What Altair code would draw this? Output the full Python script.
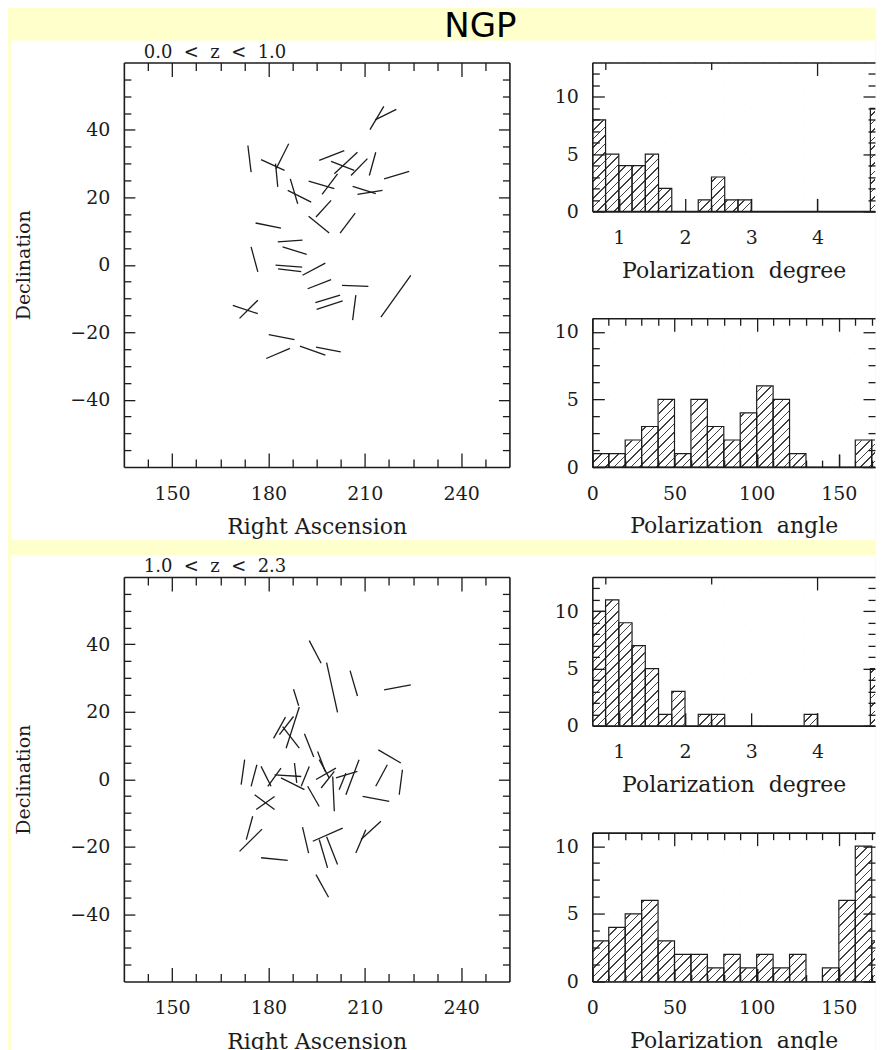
import altair as alt
import numpy as np
import pandas as pd

BG = "#FFFFCC"
INK = "#1c1c1c"
SERIF = "DejaVu Serif"
NB = "\u00a0"

# ---------------- Row 1 : 0.0 < z < 1.0  (polarization vectors, end points in RA / Dec)
r1_ra1 = [211.6, 213.2, 173.6, 177.7, 186.3, 182.2, 195.8, 199.5, 200.5, 205.7,
          211.4, 216.0, 192.5, 196.7, 186.8, 186.0, 206.2, 207.7, 194.8, 192.5,
          202.3, 176.0, 182.9, 184.4, 174.6, 182.2, 183.0, 190.6, 192.2, 202.9,
          194.6, 195.0, 206.2, 215.0, 168.9, 171.0, 180.1, 179.3, 189.8, 194.8]
r1_dec1 = [40.1, 43.0, 35.4, 31.2, 35.9, 30.0, 31.0, 30.7, 27.0, 26.5,
           26.5, 25.5, 24.8, 20.9, 25.5, 22.1, 23.3, 20.9, 14.2, 14.4,
           9.4, 12.4, 6.8, 5.3, 5.3, -0.1, -1.2, -3.1, -7.1, -6.1,
           -11.2, -13.2, -16.4, -15.5, -12.0, -15.9, -20.7, -27.8, -24.1, -24.4]
r1_ra2 = [215.9, 219.8, 174.6, 185.0, 182.4, 182.9, 203.6, 206.7, 207.7, 210.8,
          213.4, 223.8, 200.5, 201.5, 189.1, 193.3, 213.4, 215.5, 199.5, 198.9,
          207.0, 183.9, 190.6, 191.9, 176.7, 190.5, 190.2, 197.7, 199.5, 211.1,
          202.3, 203.1, 207.2, 224.3, 176.7, 176.7, 188.1, 186.7, 197.7, 202.5]
r1_dec2 = [47.0, 46.1, 27.5, 28.0, 28.5, 23.1, 33.9, 28.0, 33.4, 31.5,
           33.4, 27.7, 22.6, 27.0, 18.1, 18.6, 21.1, 22.1, 19.1, 9.4,
           15.3, 10.9, 7.3, 3.1, -2.1, -0.7, -2.0, 0.5, -4.4, -6.4,
           -9.0, -10.7, -9.0, -3.1, -14.5, -10.5, -22.2, -24.8, -26.8, -25.8]

# ---------------- Row 2 : 1.0 < z < 2.3
r2_ra1 = [192.7, 198.1, 205.4, 216.0, 187.8, 181.6, 183.4, 185.5, 184.4, 191.2,
          195.3, 214.2, 213.4, 220.7, 209.3, 171.5, 174.6, 177.7, 179.8, 181.9,
          183.9, 188.1, 190.2, 192.2, 195.8, 194.8, 196.4, 200.0, 202.0, 204.1,
          201.0, 175.7, 176.2, 175.1, 171.0, 177.7, 190.6, 193.8, 195.8, 198.1,
          207.2, 208.8, 194.8]
r2_dec1 = [41.1, 34.6, 32.2, 26.5, 26.7, 12.1, 13.2, 9.2, 15.6, 13.5,
           8.2, 8.7, -2.1, -4.6, -5.1, -1.6, -2.1, 3.8, -2.1, 1.3,
           0.4, 4.8, -2.1, -2.1, 5.8, -0.1, -2.6, 0.8, -3.1, -4.6,
           0.4, -4.6, -9.0, -11.0, -21.4, -23.3, -14.2, -18.4, -17.9, -17.1,
           -21.9, -17.9, -28.3]
r2_ra2 = [196.4, 201.5, 207.7, 224.3, 189.4, 185.3, 187.8, 189.6, 189.6, 194.1,
          197.7, 221.2, 217.0, 221.7, 217.6, 172.6, 176.4, 180.8, 183.9, 190.2,
          191.2, 188.8, 192.7, 195.8, 198.9, 201.0, 200.5, 200.5, 204.1, 208.2,
          207.7, 181.9, 181.9, 173.1, 178.0, 186.0, 192.5, 203.1, 198.4, 201.5,
          210.3, 215.0, 198.7]
r2_dec2 = [34.4, 19.8, 24.7, 28.0, 21.8, 18.4, 18.6, 21.4, 9.2, 6.6,
           2.3, 4.8, 4.3, 2.8, -6.6, 5.8, 4.3, -2.1, 3.3, 0.8,
           -3.1, -1.1, 3.8, -8.1, 0.4, 3.3, 2.3, -9.5, 1.8, 5.8,
           2.3, -9.0, -5.1, -17.9, -14.8, -24.1, -21.9, -14.5, -26.3, -25.3,
           -15.0, -12.5, -35.0]

# ---------------- Histograms
deg_bins = [0.6, 0.8, 1.0, 1.2, 1.4, 1.6, 1.8, 2.0, 2.2, 2.4, 2.6, 2.8,
            3.0, 3.2, 3.4, 3.6, 3.8, 4.0, 4.2, 4.4, 4.6, 4.8]
r1_deg_counts = [8, 5, 4, 4, 5, 2, 0, 0, 1, 3, 1, 1, 0, 0, 0, 0, 0, 0, 0, 0, 0, 9]
r2_deg_counts = [10, 11, 9, 7, 5, 1, 3, 0, 1, 1, 0, 0, 0, 0, 0, 0, 1, 0, 0, 0, 0, 5]
ang_bins = [0, 10, 20, 30, 40, 50, 60, 70, 80, 90, 100, 110, 120, 130, 140, 150, 160, 170]
r1_ang_counts = [1, 1, 2, 3, 5, 1, 5, 3, 2, 4, 6, 5, 1, 0, 0, 0, 2, 2]
r2_ang_counts = [3, 4, 5, 6, 3, 2, 2, 1, 2, 1, 2, 1, 2, 0, 1, 6, 10, 3]

# ---------------- Tick definitions
ra_ticks = [float(v) for v in np.arange(142.5, 255, 7.5)]
dec_ticks = list(range(-55, 60, 5))
deg_ticks = [round(0.8 + 0.2 * i, 1) for i in range(21)]
deg_labels = [1, 2, 3, 4]
ang_ticks = list(range(0, 180, 10))
ang_labels = [0, 50, 100, 150]
deg_y_ticks = list(range(0, 13))
ang_y_ticks = [0, 1.25, 2.5, 3.75, 5, 6.25, 7.5, 8.75, 10]

# ---------------- Texts
heading_text = "NGP"
row1_label = NB.join(["0.0", "", "<", "", "z", "", "<", "", "1.0"])
row2_label = NB.join(["1.0", "", "<", "", "z", "", "<", "", "2.3"])
ra_title = "Right Ascension"
dec_title = "Declination"
deg_title = "Polarization" + NB + NB + "degree"
ang_title = "Polarization" + NB + NB + "angle"

SC_W, SC_H = 386, 405
H_W, H_H = 283, 149
GAP = 83
RIGHT = SC_W + GAP + H_W          # right edge of the visible figure


def axis(orient, values, size_expr, label_expr=None, title=None, pad=0,
         title_pad=10, title_size=22, domain=True, labels=True):
    kw = dict(orient=orient, values=values, tickSize={"expr": size_expr},
              format="d", titlePadding=title_pad, titleFontSize=title_size,
              zindex=1, labelOverlap=False, labelFlush=False, grid=False,
              domain=domain)
    if not labels:
        kw["labels"] = False
    else:
        if label_expr is not None:
            kw["labelExpr"] = label_expr
        kw["labelPadding"] = pad
    return alt.Axis(title=title, **kw)


def scatter(ra1, dec1, ra2, dec2, label, heading=None):
    df = pd.DataFrame({"ra1": ra1, "dec1": dec1, "ra2": ra2, "dec2": dec2})
    xs = alt.Scale(domain=[135, 255], nice=False, zero=False)
    ys = alt.Scale(domain=[-60, 60], nice=False, zero=False)
    xmaj = "datum.value % 30 === 0 ? -14 : -8"
    ymaj = "datum.value % 20 === 0 ? -11 : -7"
    one = pd.DataFrame({"k": [0]})
    paper = alt.Chart(one).mark_rect(fill="white").encode(
        x=alt.value(-113), x2=alt.value(RIGHT), y=alt.value(-22), y2=alt.value(478))
    sub = alt.Chart(one).mark_text(align="left", baseline="alphabetic", font=SERIF,
                                   fontSize=18, color=INK).encode(
        x=alt.value(20), y=alt.value(-5), text=alt.value(label))
    segs = alt.Chart(df).mark_rule(color=INK, strokeWidth=1.3).encode(
        x=alt.X("ra1:Q", scale=xs,
                axis=axis("bottom", ra_ticks, xmaj,
                          "datum.value % 30 === 0 ? datum.label : ''",
                          ra_title, pad=31, title_pad=8)),
        x2="ra2:Q",
        y=alt.Y("dec1:Q", scale=ys,
                axis=axis("left", dec_ticks, ymaj,
                          "datum.value % 20 === 0 ? datum.label : ''",
                          dec_title, pad=25, title_pad=36, title_size=19)),
        y2="dec2:Q")
    holder = alt.Chart(df).mark_point(opacity=0).encode(
        x=alt.X("ra1:Q", scale=xs, axis=axis("top", ra_ticks, xmaj, labels=False)),
        y=alt.Y("dec1:Q", scale=ys, axis=axis("right", dec_ticks, ymaj, labels=False)))
    layers = [paper, sub]
    if heading:
        layers.append(alt.Chart(one).mark_text(
            align="center", baseline="alphabetic", font="DejaVu Sans",
            fontSize=34, color="black").encode(
            x=alt.value(357), y=alt.value(-26), text=alt.value(heading)))
    layers += [segs, holder]
    return alt.layer(*layers).resolve_axis(
        x="independent", y="independent").properties(width=SC_W, height=SC_H)


def hatch(W, H, period=8.5, lw=1.5, color="#404040"):
    S = W + H
    stops = []
    i = 0
    while i * period / S < 1:
        a = i * period / S
        b = min((i * period + lw) / S, 1)
        c = min((i + 1) * period / S, 1)
        stops += [alt.GradientStop(color=color, offset=a),
                  alt.GradientStop(color=color, offset=b),
                  alt.GradientStop(color="white", offset=b),
                  alt.GradientStop(color="white", offset=c)]
        i += 1
    d = W * W + H * H
    return alt.LinearGradient(gradient="linear", stops=stops, x1=0, y1=0,
                              x2=S * W / d, y2=S * H / d)


def hist(bins, counts, bw, xdom, ydom, xticks, xmaj, xlabels, yticks, title):
    df = pd.DataFrame({"b0": bins, "b1": [b + bw for b in bins], "n": counts})
    xs = alt.Scale(domain=xdom, nice=False, zero=False)
    ys = alt.Scale(domain=ydom, nice=False, zero=False)
    ymaj = "datum.value % 5 === 0 ? -12 : -7"
    shade = alt.Chart(pd.DataFrame({"k": [0]})).mark_rect(fill=hatch(H_W, H_H)).encode(
        x=alt.value(0), x2=alt.value(H_W), y=alt.value(0), y2=alt.value(H_H))
    cover = alt.Chart(df).mark_rect(fill="white", stroke="white", strokeWidth=0.8,
                                    clip=True).encode(
        x=alt.X("b0:Q", scale=xs, axis=axis("top", xticks, xmaj, labels=False)),
        x2="b1:Q",
        y=alt.Y("n:Q", scale=ys,
                axis=axis("right", yticks, ymaj, domain=False, labels=False)),
        y2=alt.value(0))
    bars = alt.Chart(df).mark_rect(fillOpacity=0, stroke=INK, strokeWidth=1.2,
                                   clip=True).encode(
        x=alt.X("b0:Q", scale=xs,
                axis=axis("bottom", xlabels, "-13", None, title, pad=30,
                          title_pad=13)),
        x2="b1:Q",
        y=alt.Y("n:Q", scale=ys,
                axis=axis("left", yticks, ymaj,
                          "datum.value % 5 === 0 ? datum.label : ''",
                          None, pad=26)),
        y2=alt.datum(0))
    minor = alt.Chart(df).mark_point(opacity=0).encode(
        x=alt.X("b0:Q", scale=xs,
                axis=axis("bottom", xticks, xmaj, domain=False, labels=False)))
    return alt.layer(shade, cover, bars, minor).resolve_axis(
        x="independent", y="independent").properties(width=H_W, height=H_H)


deg_maj = "abs(datum.value - round(datum.value)) < 0.001 ? -13 : -7"
ang_maj = "datum.value % 50 === 0 ? -13 : -7"


def row(ra1, dec1, ra2, dec2, label, degc, angc, heading=None):
    sc = scatter(ra1, dec1, ra2, dec2, label, heading)
    dh = hist(deg_bins, degc, 0.2, [0.6, 4.87], [0, 13],
              [t for t in deg_ticks if t < 4.87], deg_maj, deg_labels,
              deg_y_ticks, deg_title)
    ah = hist(ang_bins, angc, 10, [0, 172], [0, 11], ang_ticks, ang_maj,
              ang_labels, ang_y_ticks, ang_title)
    return alt.hconcat(sc, alt.vconcat(dh, ah, spacing=107, bounds="flush"),
                       spacing=GAP, bounds="flush")


row1 = row(r1_ra1, r1_dec1, r1_ra2, r1_dec2, row1_label,
           r1_deg_counts, r1_ang_counts, heading=heading_text)
row2 = row(r2_ra1, r2_dec1, r2_ra2, r2_dec2, row2_label,
           r2_deg_counts, r2_ang_counts)

chart = alt.vconcat(row1, row2, spacing=15).properties(
    padding={"left": 3, "top": 1, "right": 0, "bottom": 0},
).configure(background=BG).configure_view(strokeWidth=0).configure_axis(
    labelFont=SERIF, labelFontSize=19, labelColor=INK,
    titleFont=SERIF, titleFontWeight="normal", titleColor=INK,
    domainColor=INK, domainWidth=1.6, tickColor=INK, tickWidth=1.3,
)

chart.save("out.html", embed_options={"renderer": "svg", "actions": False})
